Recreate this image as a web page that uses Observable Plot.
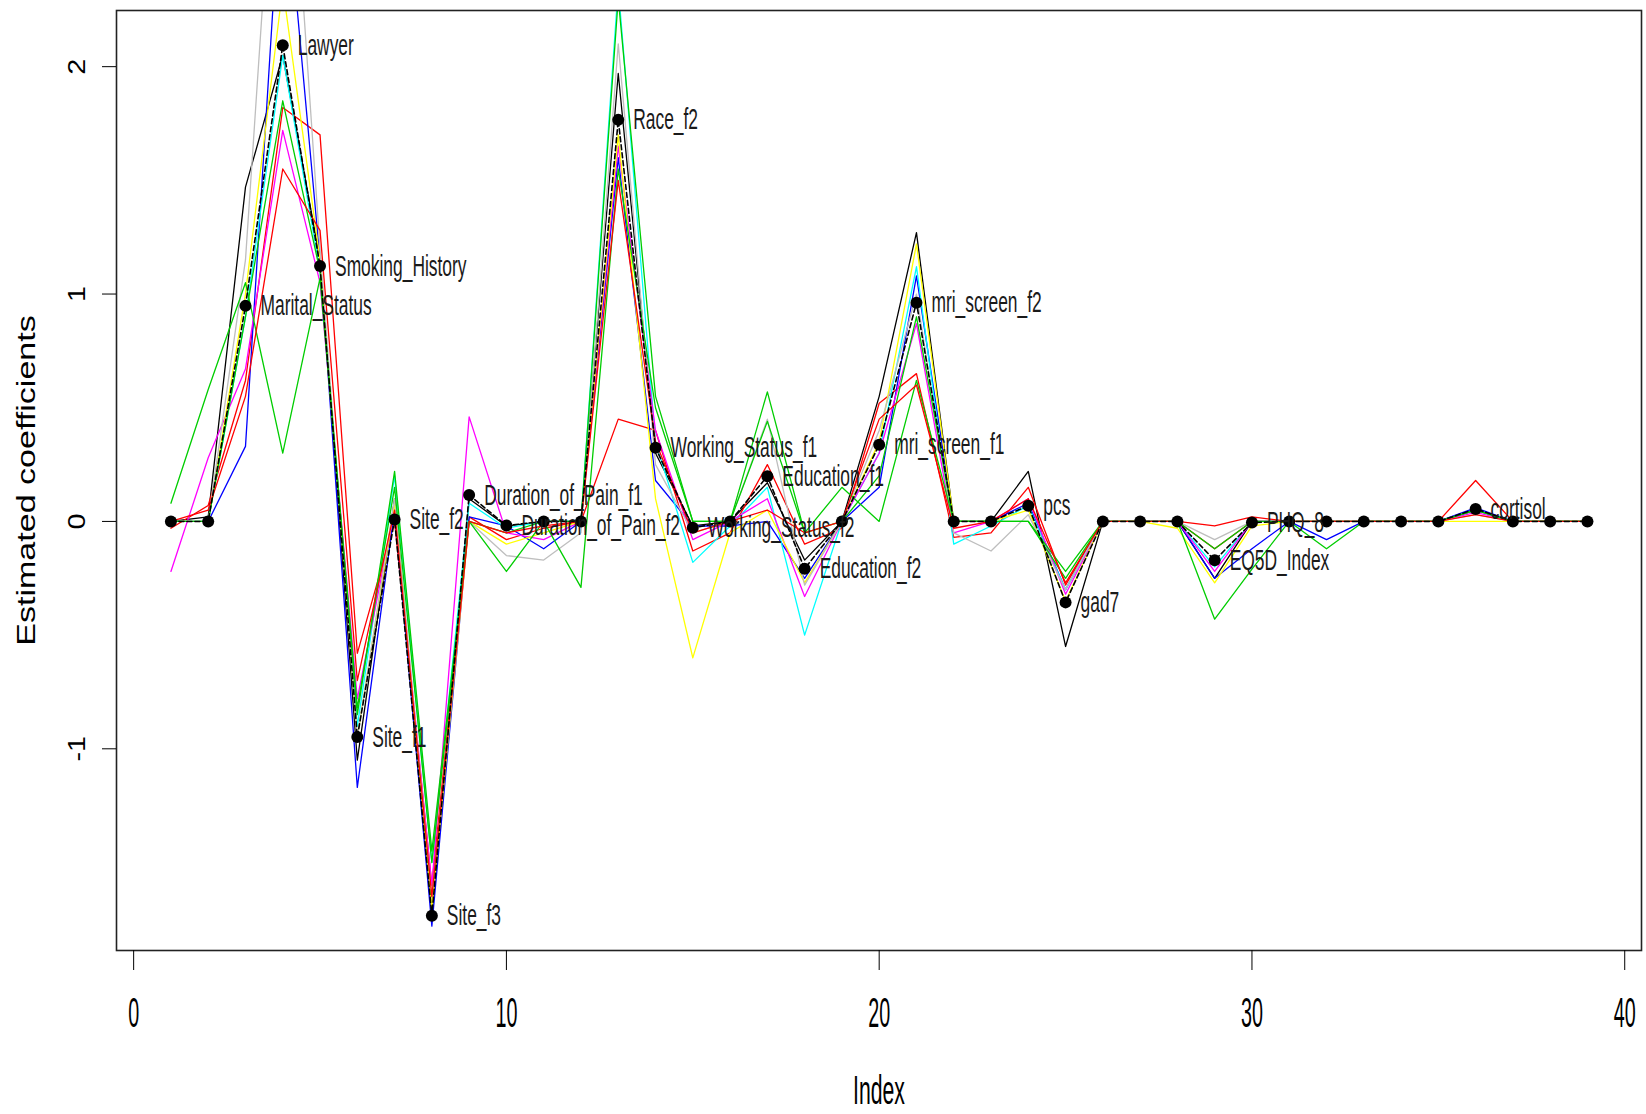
<!DOCTYPE html>
<html><head><meta charset="utf-8">
<script src="https://cdn.jsdelivr.net/npm/d3@7"></script>
<script src="https://cdn.jsdelivr.net/npm/@observablehq/plot@0.6"></script>
<style>body{margin:0;background:#fff;} svg{display:block;}</style>
</head><body><div id="chart"></div>
<script>
// ---- data ----
const idx = [1,2,3,4,5,6,7,8,9,10,11,12,13,14,15,16,17,18,19,20,21,22,23,24,25,26,27,28,29,30,31,32,33,34,35,36,37,38,39];
const coefNames = ["","","Marital_Status","Lawyer","Smoking_History","Site_f1","Site_f2","Site_f3","Duration_of_Pain_f1","Duration_of_Pain_f2",
  "","","Race_f2","Working_Status_f1","Working_Status_f2","","Education_f1","Education_f2","","mri_screen_f1",
  "mri_screen_f2","","","pcs","gad7","","","","EQ5D_Index","PHQ_8",
  "","","","","","cortisol","","",""];
const estimate = [0,0,0.948,2.094,1.123,-0.948,0.009,-1.734,0.116,-0.018,
  0,0,1.766,0.324,-0.028,0,0.199,-0.208,0,0.337,
  0.962,0,0,0.069,-0.356,0,0,0,-0.171,-0.005,
  0,0,0,0,0,0.055,0,0,0];

const sBlack = [0,0.02,1.47,2.05,1.15,-1.05,0.1,-1.72,0.1,-0.02,
  0,0,1.97,0.3,-0.02,0,0.17,-0.17,0,0.55,
  1.27,0,0,0.22,-0.55,0,0,0,-0.25,0,
  0,0,0,0,0,0.05,0,0,0];
const sRed = [-0.03,0.07,0.62,1.82,1.70,-0.58,0.0,-1.6,0.02,-0.08,
  -0.03,0,0.45,0.4,-0.13,-0.05,0.25,-0.1,-0.03,0.52,
  0.65,-0.07,-0.05,0.15,-0.28,0,0,0,-0.12,0,
  0,0,0,0,0,0.18,0,0,0];
const sBlue = [0,0,0.33,2.95,1.15,-1.17,0.05,-1.78,0.02,-0.02,
  -0.12,0,1.6,0.18,-0.02,-0.02,0.0,-0.25,0,0.15,
  1.08,0,0,0.08,-0.3,0,0,0,-0.25,-0.12,
  0,-0.08,0,0,0,0.06,0,0,0];
const sCyan = [0,0,0.9,2.05,1.1,-0.9,0.2,-1.5,0.08,-0.03,
  0,0,2.35,0.35,-0.18,-0.02,0.15,-0.5,0,0.3,
  1.12,-0.1,-0.02,0.07,-0.3,0,0,0,-0.2,0,
  0,0,0,0,0,0.05,0,0,0];
const sMagenta = [-0.22,0.28,0.67,1.72,1.05,-0.78,0.05,-1.6,0.46,-0.05,
  -0.08,0,1.65,0.4,-0.08,0,0.1,-0.33,0,0.3,
  0.87,-0.05,0,0.1,-0.32,0,0,0,-0.22,0,
  0,0,0,0,0,0.04,0,0,0];
const sYellow = [0,0,1.0,2.35,1.15,-0.95,0.08,-1.7,0.0,-0.1,
  -0.05,0,1.7,0.1,-0.6,-0.05,0.05,-0.27,0,0.35,
  1.22,0,0,0.05,-0.35,0,0,-0.03,-0.27,-0.02,
  0,0,0,0,0,0,0,0,0];
const sGray = [0,0,1.15,3.6,1.2,-0.95,0.1,-1.65,0.0,-0.15,
  -0.17,-0.05,2.1,0.25,-0.05,0,0.45,-0.28,0,0.4,
  1.0,-0.05,-0.13,0.03,-0.3,0,0,0,-0.08,0,
  0,0,0,0,0,0.03,0,0,0];
const sGreen2 = [0.08,0.58,1.05,0.3,1.07,-0.82,0.15,-1.5,0.0,-0.22,
  0.0,-0.29,1.55,0.5,0.0,0.0,0.57,-0.05,0.15,0.0,
  0.62,0,0,0,-0.22,0,0,0,-0.43,-0.21,
  0,-0.12,0,0,0,0.05,0,0,0];
const sGreen = [0,0,0.9,1.85,1.1,-0.85,0.22,-1.45,0.0,-0.05,
  0,0,2.3,0.55,0,0,0.44,-0.05,0,0.2,
  0.9,0,0,0.0,-0.25,0,0,0,-0.12,0,
  0,0,0,0,0,0.05,0,0,0];
const sRed2 = [0,0.05,0.55,1.55,1.28,-0.7,0.05,-1.65,0.0,-0.05,
  -0.02,0,1.5,0.35,-0.05,0,0.05,-0.05,0,0.45,
  0.6,-0.03,0,0.1,-0.27,0,0,0,-0.02,0.02,
  0,0,0,0,0,0.03,0,0,0];

const seriesNames = ["black","red","blue","cyan","magenta","yellow","gray","green2","green","red2"];
const seriesColors = ["#000000","#FF0000","#0000FF","#00FFFF","#FF00FF","#FFFF00","#BEBEBE","#00CD00","#00CD00","#FF0000"];
const seriesValues = [sBlack,sRed,sBlue,sCyan,sMagenta,sYellow,sGray,sGreen2,sGreen,sRed2];

const xTicks = [0,10,20,30,40];
const yTicks = [-1,0,1,2];
const xLabel = "Index";
const yLabel = "Estimated coefficients";

// ---- build ----
const rows = seriesValues.flatMap((vals, s) => vals.map((v, i) => ({series: seriesNames[s], x: idx[i], y: v})));
const est = idx.map((x, i) => ({x, y: estimate[i], name: coefNames[i]}));
const labeled = est.filter(d => d.name);

const chart = Plot.plot({
  width: 1646, height: 1114,
  marginLeft: 116, marginRight: 5, marginTop: 10, marginBottom: 164,
  style: {background: "#fff", color: "#000", fontFamily: "'Liberation Sans', Arial, sans-serif"},
  x: {domain: [-0.46, 40.45]},
  y: {domain: [-1.887, 2.247]},
  marks: [
    ...seriesNames.map((n, s) => Plot.line(rows.filter(r => r.series === n),
      {x: "x", y: "y", stroke: seriesColors[s], strokeWidth: 1.3, clip: true})),
    Plot.line(est, {x: "x", y: "y", stroke: "#000", strokeWidth: 1.6, strokeDasharray: "5,3", clip: true}),
    Plot.dot(est, {x: "x", y: "y", r: 6, fill: "#000", stroke: "none"}),
    Plot.text(labeled, {x: "x", y: "y", text: "name", textAnchor: "start", dx: 15, fontSize: 30, fill: "#1a1a1a"}),
    Plot.frame({stroke: "#222", strokeWidth: 1.6}),
    Plot.axisX({ticks: xTicks, tickSize: 20, tickPadding: 27, fontSize: 42, label: null, tickFormat: d => String(d)}),
    Plot.axisY({ticks: yTicks, tickSize: 14, tickPadding: 18, tickRotate: -90, fontSize: 24, label: null, tickFormat: d => String(d)}),
    Plot.text([xLabel], {text: d => d, frameAnchor: "bottom", dy: 153, fontSize: 40}),
    Plot.text([yLabel], {text: d => d, frameAnchor: "left", textAnchor: "middle", dx: -90, rotate: -90, fontSize: 26})
  ]
});

function squeeze(sel, sx, sy) {
  chart.querySelectorAll(sel).forEach(t => {
    let tr = t.getAttribute("transform");
    if (!tr) { const x = +t.getAttribute("x") || 0; tr = `translate(${x},0)`; t.removeAttribute("x"); }
    t.setAttribute("transform", tr + ` scale(${sx},${sy})`);
  });
}
squeeze('g[font-size="30"] text', 0.58, 1);
squeeze('g[aria-label="x-axis tick label"] text', 0.47, 1);
squeeze('g[aria-label="y-axis tick label"] text', 1.2, 1);
squeeze('g[font-size="40"] text', 0.53, 1);
squeeze('g[font-size="26"] text', 1.31, 1);

document.getElementById("chart").appendChild(chart);
</script>
</body></html>
